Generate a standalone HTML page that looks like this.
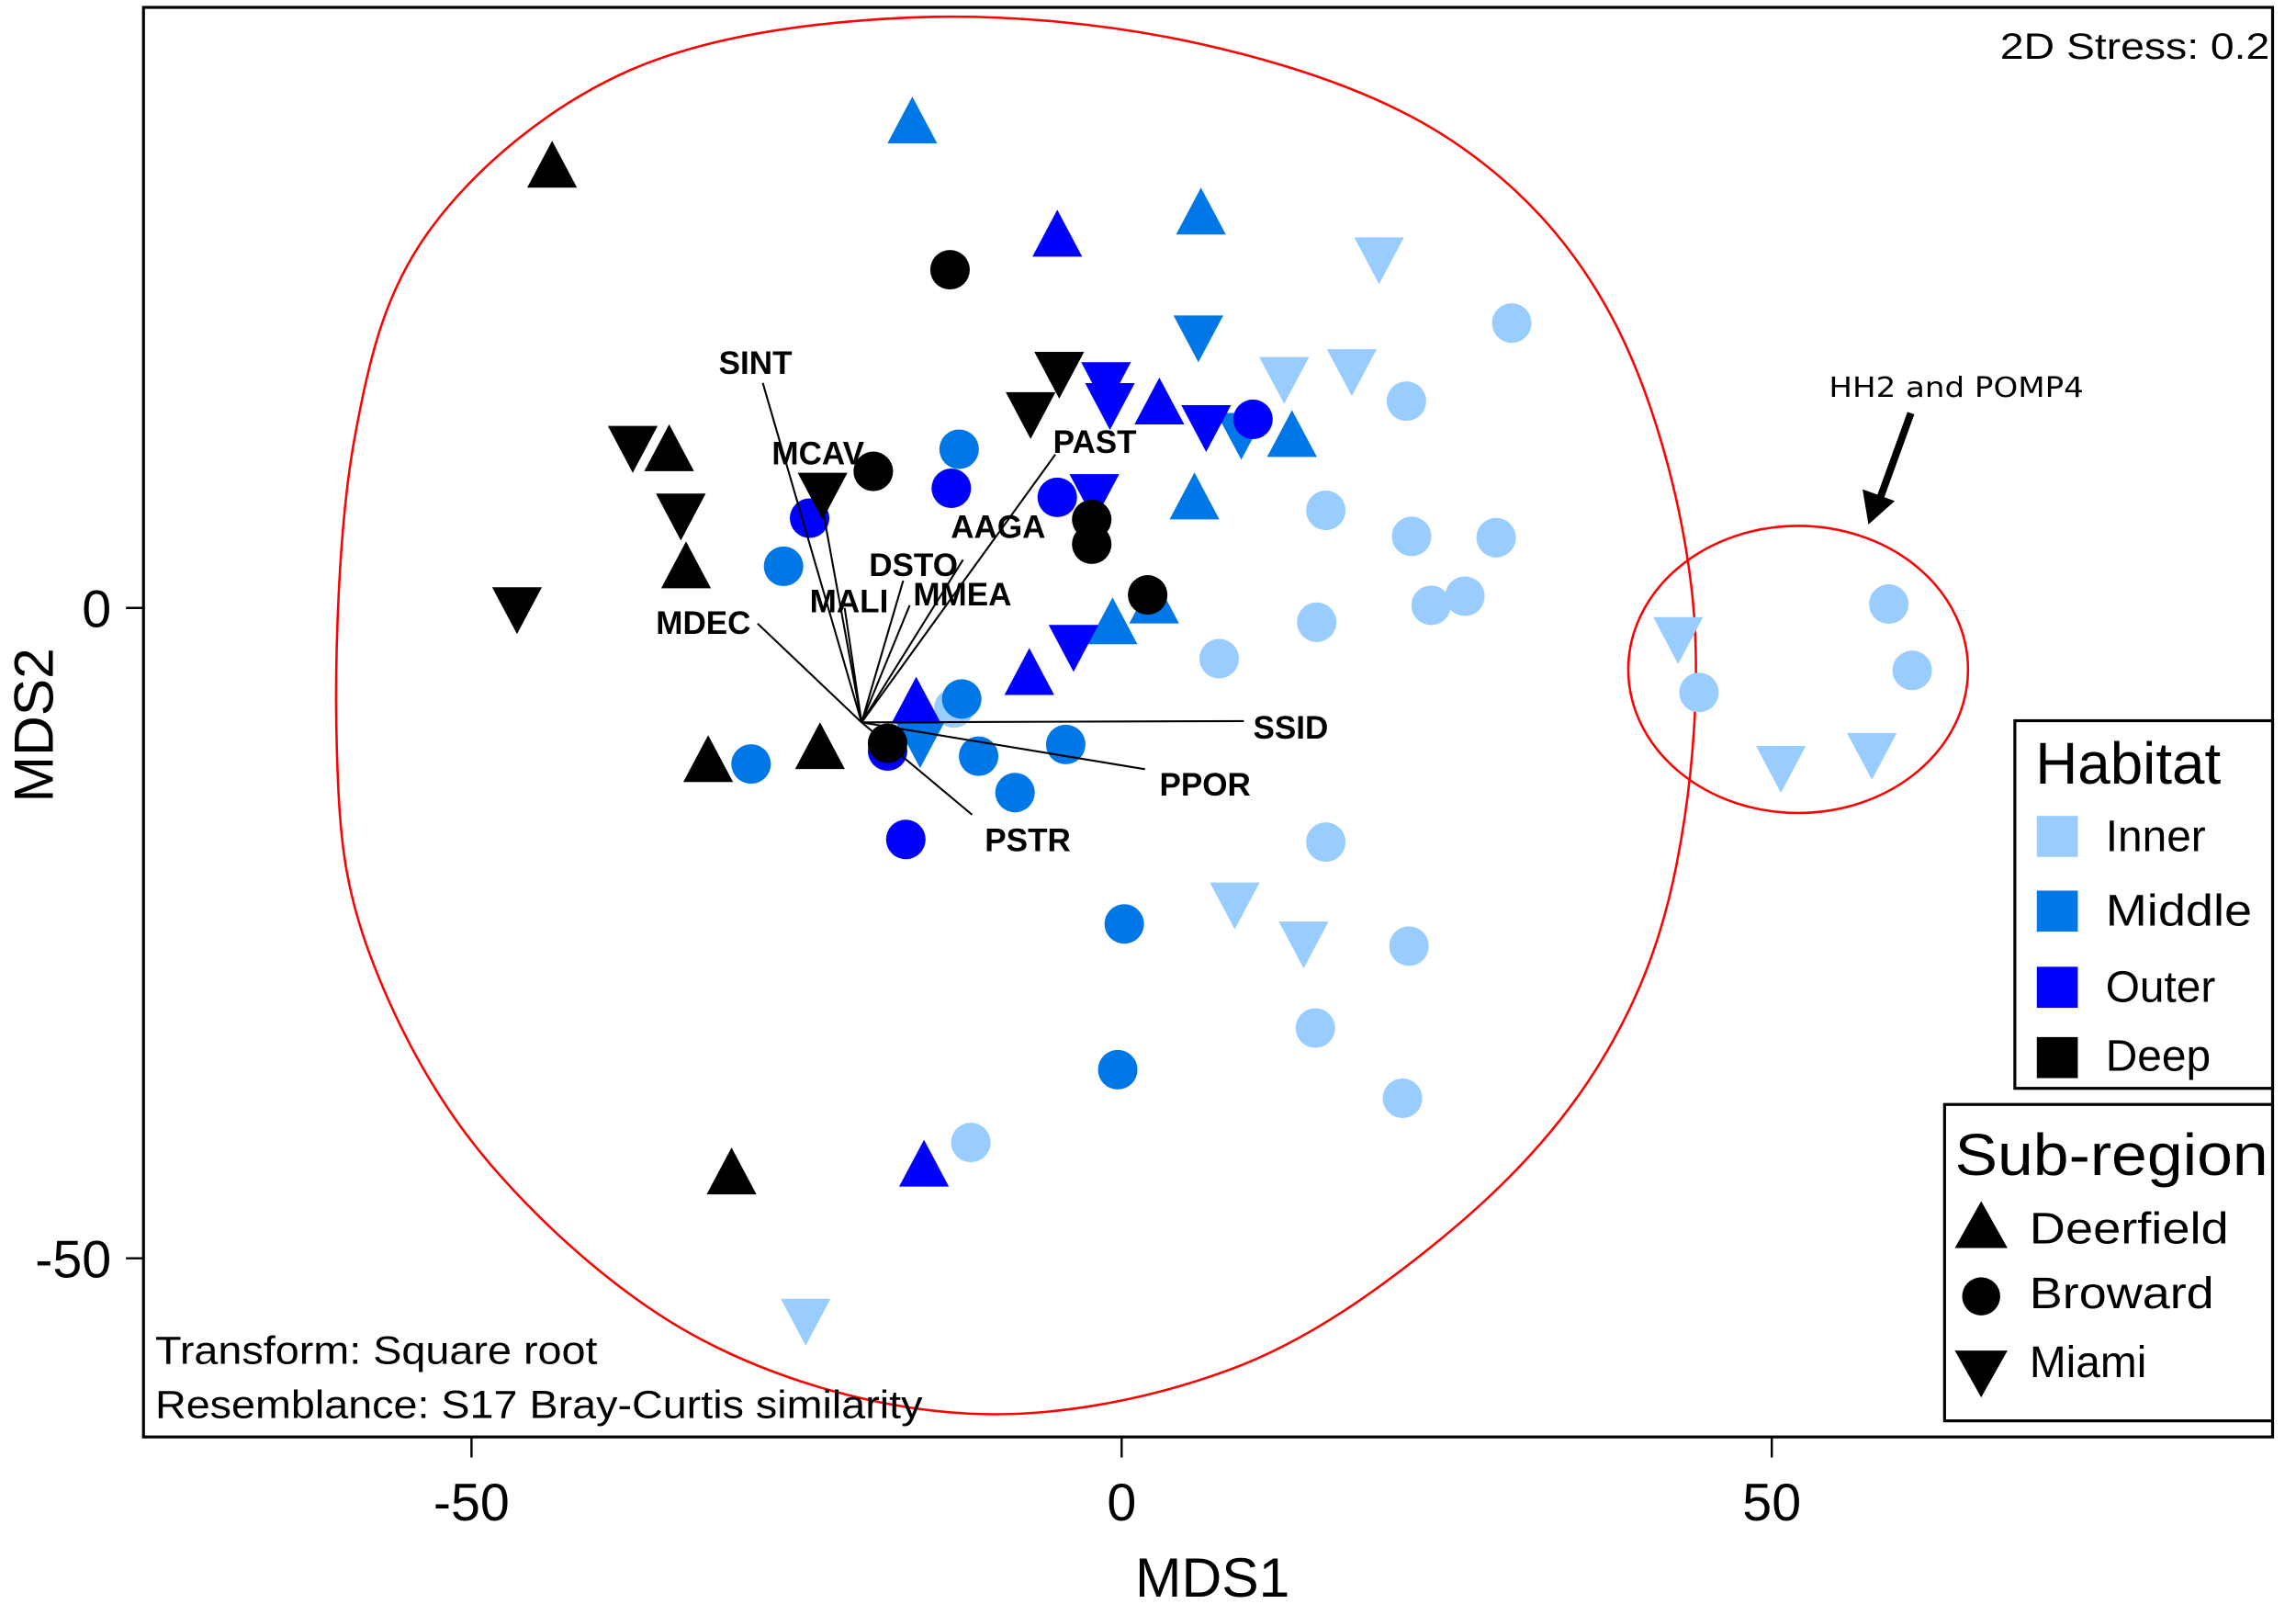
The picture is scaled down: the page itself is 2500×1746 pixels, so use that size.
<!DOCTYPE html>
<html><head><meta charset="utf-8"><style>
html,body{margin:0;padding:0;background:#fff;}
svg{display:block;font-family:"Liberation Sans",Arial,sans-serif;}
</style></head><body>
<svg id="chart" width="2500" height="1746" viewBox="0 0 1568 1095" xmlns="http://www.w3.org/2000/svg">
<rect x="0" y="0" width="1568" height="1095" fill="#fff"/>
<rect x="98" y="5" width="1454" height="976" fill="none" stroke="#000" stroke-width="2"/>
<path id="blob" fill="none" stroke="#f00" stroke-width="1.6"/>
<ellipse cx="1228" cy="457" rx="116" ry="98" fill="none" stroke="#f00" stroke-width="1.6"/>
<g id="marks"></g>
<g id="vectors"></g>
<g id="axes"></g>
<text x="1550" y="40" text-anchor="end" font-size="25" textLength="184" lengthAdjust="spacingAndGlyphs">2D Stress: 0.2</text>
<text x="106" y="931" font-size="27" textLength="302" lengthAdjust="spacingAndGlyphs">Transform: Square root</text>
<text x="106" y="968" font-size="27" textLength="524" lengthAdjust="spacingAndGlyphs">Resemblance: S17 Bray-Curtis similarity</text>
<text x="1336" y="271" text-anchor="middle" font-size="19" font-family="DejaVu Sans, sans-serif" textLength="174" lengthAdjust="spacingAndGlyphs">HH2 and POMP4</text>
<line x1="1305" y1="282" x2="1284" y2="340" stroke="#000" stroke-width="5"/>
<polygon points="1276,358 1272,334 1294,342" fill="#000"/>
<g>
<rect x="1376" y="492" width="176" height="251" fill="#fff" stroke="#000" stroke-width="2"/>
<text x="1390" y="535" font-size="40">Habitat</text>
<rect x="1391" y="557" width="28" height="28" fill="#99ccff"/><text x="1438" y="581" font-size="30">Inner</text>
<rect x="1391" y="608" width="28" height="28" fill="#0077e6"/><text x="1438" y="632" font-size="30" textLength="100" lengthAdjust="spacingAndGlyphs">Middle</text>
<rect x="1391" y="660" width="28" height="28" fill="#0000ff"/><text x="1438" y="684" font-size="30">Outer</text>
<rect x="1391" y="708" width="28" height="28" fill="#000"/><text x="1438" y="731" font-size="30">Deep</text>
</g>
<g>
<rect x="1328" y="754" width="224" height="216" fill="#fff" stroke="#000" stroke-width="2"/>
<text x="1335" y="802" font-size="40" textLength="214" lengthAdjust="spacingAndGlyphs">Sub-region</text>
<polygon points="1335,852 1353,820 1371,852" fill="#000"/><text x="1386" y="849" font-size="30" textLength="136" lengthAdjust="spacingAndGlyphs">Deerfield</text>
<circle cx="1353" cy="885" r="13" fill="#000"/><text x="1386" y="893" font-size="30" textLength="126" lengthAdjust="spacingAndGlyphs">Broward</text>
<polygon points="1335,922 1371,922 1353,954" fill="#000"/><text x="1386" y="940" font-size="30">Miami</text>
</g>
</svg>
<script>
const NS="http://www.w3.org/2000/svg";
// data (MDS units)
const deerfieldDeep=[[-43.8,34.0],[-34.8,12.2],[-33.5,3.2],[-31.8,-11.7],[-23.2,-10.7],[-30.0,-43.4]];
const browardDeep=[[-13.2,26.0],[-19.1,10.5],[-2.3,6.8],[-2.3,4.9],[2.0,1.0],[-18.0,-10.4]];
const miamiDeep=[[-37.6,12.3],[-33.9,7.1],[-46.5,-0.1],[-4.8,18.0],[-7.0,14.9],[-23.0,8.7]];
const deerfieldMiddle=[[-16.1,37.4],[6.1,30.4],[5.6,8.5],[13.1,13.3],[2.5,0.5],[-0.7,-1.1]];
const browardMiddle=[[-12.5,12.2],[-26.0,3.2],[-12.3,-7.0],[-28.5,-12.0],[-11.0,-11.4],[-4.3,-10.5],[-8.2,-14.2],[0.2,-24.3],[-0.3,-35.5]];
const miamiMiddle=[[5.9,20.8],[9.2,13.3],[-15.5,-10.4]];
const deerfieldOuter=[[-4.95,28.7],[2.9,15.8],[-7.1,-5.0],[-15.8,-7.2],[-15.2,-42.8]];
const browardOuter=[[10.1,14.5],[-13.1,9.2],[-24.0,6.9],[-4.95,8.5],[-18.0,-11.0],[-16.6,-17.8]];
const miamiOuter=[[-1.2,17.2],[-0.9,15.6],[6.5,13.9],[-2.1,8.6],[-3.7,-3.0]];
const miamiInner=[[19.8,26.8],[17.7,18.2],[12.5,17.6],[42.8,-2.4],[50.7,-12.3],[57.7,-11.3],[8.7,-22.8],[14.0,-25.8],[-24.3,-54.8]];
const browardInner=[[30.0,21.9],[21.9,15.9],[15.7,7.5],[22.3,5.5],[28.8,5.4],[23.8,0.2],[26.4,0.9],[7.5,-3.9],[15.0,-1.1],[-12.9,-7.7],[59.0,0.3],[60.8,-4.8],[44.4,-6.5],[15.7,-18.0],[22.1,-26.0],[14.9,-32.3],[21.6,-37.7],[-11.6,-41.1]];
const vecNames=["SINT","MCAV","MALI","DSTO","MMEA","AAGA","PAST","MDEC","SSID","PPOR","PSTR"];
const vecX=[-7.6,-2.9,-1.3,3.2,3.7,7.8,14.9,-8.0,29.4,21.8,8.5];
const vecY=[26.1,15.9,8.8,10.9,9.0,12.5,20.6,7.6,0.1,-3.6,-7.1];
const vecOrigin=[-20.0,-8.8];
const xTicks=[-50,0,50], yTicks=[0,-50];
const xs=v=>766+8.88*v, ys=v=>415-8.88*v;
const col={Inner:"#99ccff",Middle:"#0077e6",Outer:"#0000ff",Deep:"#000000"};
const marks=document.getElementById('marks');
function draw(arr,shape,hab){
  arr.forEach(d=>{
    const x=xs(d[0]),y=ys(d[1]);let el;
    if(shape==='circle'){el=document.createElementNS(NS,'circle');el.setAttribute('cx',x);el.setAttribute('cy',y);el.setAttribute('r',13.5);}
    else{el=document.createElementNS(NS,'polygon');
      const p=shape==='up'?[[x-17,y+15],[x+17,y+15],[x,y-17]]:[[x-17,y-15],[x+17,y-15],[x,y+17]];
      el.setAttribute('points',p.map(q=>q.join(',')).join(' '));}
    el.setAttribute('fill',col[hab]);
    
    
    marks.appendChild(el);
  });
}
draw(miamiInner,'down','Inner');draw(browardInner,'circle','Inner');
draw(deerfieldMiddle,'up','Middle');draw(browardMiddle,'circle','Middle');draw(miamiMiddle,'down','Middle');
draw(deerfieldOuter,'up','Outer');draw(browardOuter,'circle','Outer');draw(miamiOuter,'down','Outer');
draw(deerfieldDeep,'up','Deep');draw(browardDeep,'circle','Deep');draw(miamiDeep,'down','Deep');
const vg=document.getElementById('vectors');
const lblOff={SINT:[-5,-17],MCAV:[-4,-46],MALI:[3,-8],DSTO:[7,-14],MMEA:[36,-11],AAGA:[24,-26],PAST:[27,-12],MDEC:[-37,-4],SSID:[32,1],PPOR:[41,7],PSTR:[38,14]};
const ox=xs(vecOrigin[0]),oy=ys(vecOrigin[1]);
vecNames.forEach((n,i)=>{
  const ex=xs(vecOrigin[0]+vecX[i]),ey=ys(vecOrigin[1]+vecY[i]);
  const l=document.createElementNS(NS,'line');
  l.setAttribute('x1',ox);l.setAttribute('y1',oy);l.setAttribute('x2',ex);l.setAttribute('y2',ey);
  l.setAttribute('stroke','#000');l.setAttribute('stroke-width','1.3');
  
  
  vg.appendChild(l);
  const t=document.createElementNS(NS,'text');
  t.setAttribute('x',ex+lblOff[n][0]);t.setAttribute('y',ey+lblOff[n][1]+11);
  t.setAttribute('text-anchor','middle');t.setAttribute('font-size','22');t.setAttribute('font-weight','bold');
  t.textContent=n;
  
  
  vg.appendChild(t);
});
const ag=document.getElementById('axes');
function add(tag,attrs,txt){const e=document.createElementNS(NS,tag);for(const k in attrs)e.setAttribute(k,attrs[k]);if(txt!==undefined)e.textContent=txt;ag.appendChild(e);return e;}
xTicks.forEach(v=>{
  const tk=add('line',{x1:xs(v),x2:xs(v),y1:981,y2:995,stroke:'#000','stroke-width':1.5});
  
  
  const lb=add('text',{x:xs(v),y:1038,'text-anchor':'middle','font-size':36},String(v));
  
  
});
yTicks.forEach(v=>{
  const tk=add('line',{x1:86,x2:98,y1:ys(v),y2:ys(v),stroke:'#000','stroke-width':1.5});
  
  
  const lb=add('text',{x:76,y:ys(v)+13,'text-anchor':'end','font-size':36},String(v));
  
  
});
const xt=add('text',{x:828,y:1090,'text-anchor':'middle','font-size':38},'MDS1');


const yt=add('text',{x:36,y:495,'text-anchor':'middle','font-size':38,transform:'rotate(-90 36 495)'},'MDS2');


// blob path via catmull-rom
const bp=[[230,510],[242,300],[295,155],[430,48],[620,12],[820,30],[990,95],[1100,215],[1155,400],[1145,590],[1090,730],[985,845],[840,935],[660,965],[480,915],[335,795],[252,650]];
let d='M'+bp[0].join(',');
for(let i=0;i<bp.length;i++){
  const p0=bp[(i-1+bp.length)%bp.length],p1=bp[i],p2=bp[(i+1)%bp.length],p3=bp[(i+2)%bp.length];
  d+=` C${p1[0]+(p2[0]-p0[0])/6},${p1[1]+(p2[1]-p0[1])/6} ${p2[0]-(p3[0]-p1[0])/6},${p2[1]-(p3[1]-p1[1])/6} ${p2[0]},${p2[1]}`;
}
document.getElementById('blob').setAttribute('d',d+'Z');
</script>
</body></html>
